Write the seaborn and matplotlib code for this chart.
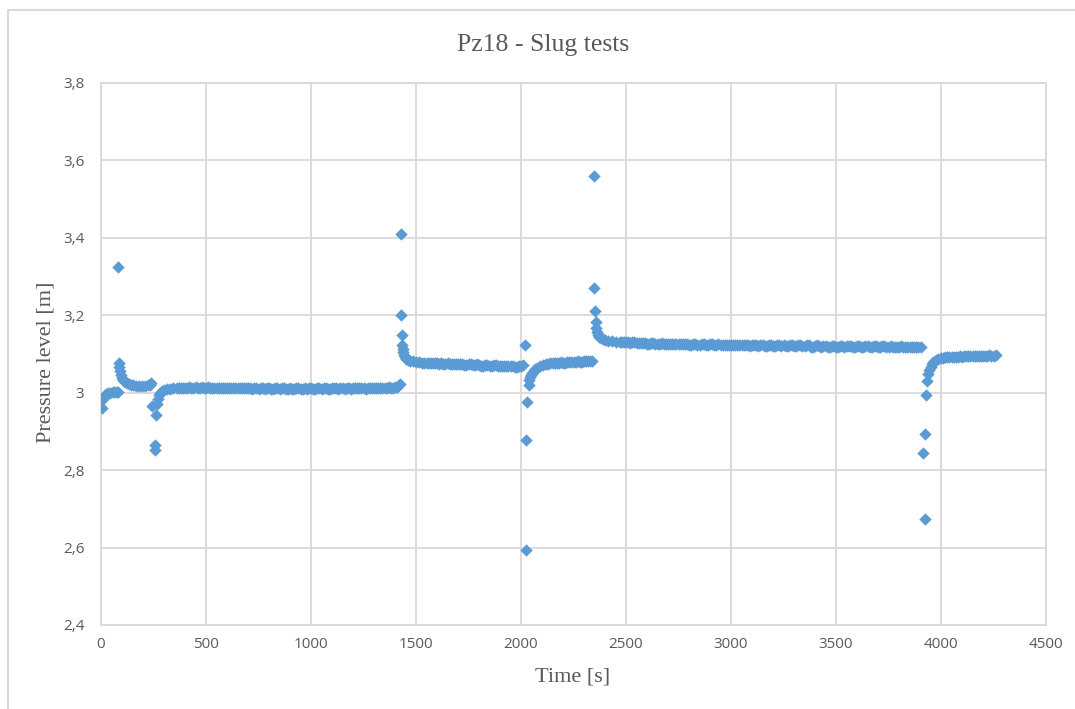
import matplotlib
matplotlib.use("Agg")
import matplotlib.pyplot as plt
import seaborn as sns
import pandas as pd
from matplotlib.patches import Rectangle

# ---------------- data ----------------
# Phase 1: start, first slug (spike + drop) and recovery
t_phase1 = [5, 8, 12, 18, 25, 35, 45, 55, 65, 75, 80,
            83, 84, 87, 90, 94, 98, 103, 108, 115, 123, 132, 142, 152, 165, 180, 195, 210, 222, 232, 240,
            245, 255, 258, 262, 266, 270, 275, 282, 290, 300, 315, 330, 345]
p_phase1 = [2.960, 2.984, 2.990, 2.994, 2.997, 2.999, 3.000, 3.001, 3.001, 3.002, 3.003,
            3.325, 3.078, 3.066, 3.056, 3.046, 3.039, 3.034, 3.030, 3.027, 3.024, 3.022, 3.020, 3.019,
            3.018, 3.017, 3.017, 3.018, 3.019, 3.021, 3.024,
            2.966, 2.852, 2.866, 2.943, 2.972, 2.985, 2.994, 3.000, 3.004, 3.007, 3.009, 3.010, 3.011]
# plateau 1: logged every 10 s from 360 s to 1400 s
t_plateau1 = list(range(360, 1401, 10))
p_plateau1 = [3.011, 3.012, 3.013, 3.011, 3.012, 3.013, 3.014, 3.012, 3.012, 3.014,
              3.013, 3.012, 3.014, 3.013, 3.012, 3.014, 3.013, 3.012, 3.011, 3.013,
              3.013, 3.011, 3.012, 3.013, 3.013, 3.011, 3.011, 3.013, 3.012, 3.011,
              3.013, 3.012, 3.011, 3.013, 3.012, 3.011, 3.010, 3.012, 3.012, 3.010,
              3.012, 3.011, 3.010, 3.012, 3.011, 3.010, 3.010, 3.012, 3.012, 3.010,
              3.011, 3.012, 3.009, 3.010, 3.011, 3.009, 3.010, 3.012, 3.012, 3.010,
              3.010, 3.011, 3.009, 3.011, 3.011, 3.009, 3.010, 3.012, 3.012, 3.010,
              3.011, 3.012, 3.009, 3.010, 3.011, 3.013, 3.012, 3.010, 3.012, 3.011,
              3.010, 3.012, 3.012, 3.010, 3.011, 3.013, 3.013, 3.011, 3.012, 3.011,
              3.010, 3.012, 3.012, 3.011, 3.013, 3.012, 3.011, 3.013, 3.012, 3.011,
              3.013, 3.014, 3.012, 3.013, 3.014]
t_pre2 = [1410, 1418, 1422]
p_pre2 = [3.016, 3.019, 3.023]

# Phase 2: second slug (spike) and slow decay
t_phase2 = [1427, 1429, 1431, 1433, 1436, 1439, 1443, 1448, 1454, 1462, 1472, 1485, 1500, 1515, 1530]
p_phase2 = [3.409, 3.200, 3.150, 3.122, 3.112, 3.104, 3.097, 3.092, 3.088, 3.085, 3.083, 3.081,
            3.080, 3.079, 3.078]
t_plateau2 = list(range(1540, 2001, 10))
p_plateau2 = [3.078, 3.077, 3.078, 3.076, 3.076, 3.077, 3.076,
              3.075, 3.076, 3.074, 3.075, 3.076, 3.074, 3.073, 3.075, 3.074, 3.073,
              3.074, 3.074, 3.072, 3.072, 3.074, 3.073, 3.071, 3.071, 3.073, 3.072,
              3.070, 3.070, 3.072, 3.072, 3.070, 3.070, 3.071, 3.071, 3.069, 3.068,
              3.070, 3.070, 3.068, 3.068, 3.070, 3.069, 3.067, 3.067, 3.069, 3.069]

# Phase 3: third slug (drop) and recovery
t_phase3 = [2010, 2018, 2022, 2026, 2030, 2036, 2040, 2044, 2048, 2053, 2060, 2068, 2078, 2090, 2105]
p_phase3 = [3.071, 3.122, 2.595, 2.878, 2.975, 3.020, 3.032, 3.040, 3.046, 3.051, 3.056, 3.061,
            3.065, 3.069, 3.072]
t_plateau3 = list(range(2120, 2341, 10))
p_plateau3 = [3.074, 3.075, 3.076, 3.077, 3.077, 3.077, 3.078, 3.079, 3.078, 3.078,
              3.079, 3.080, 3.079, 3.079, 3.080, 3.081, 3.080, 3.080, 3.081, 3.082,
              3.081, 3.081, 3.083]

# Phase 4: fourth slug (spike) and long plateau
t_phase4 = [2346, 2349, 2352, 2355, 2358, 2362, 2367, 2373, 2380, 2390, 2402, 2416, 2432, 2450]
p_phase4 = [3.560, 3.270, 3.212, 3.182, 3.167, 3.157, 3.150, 3.145, 3.141, 3.138, 3.136, 3.134,
            3.133, 3.132]
t_plateau4 = list(range(2470, 3891, 10))
p_plateau4 = [3.132, 3.131, 3.130, 3.131, 3.131, 3.129, 3.130, 3.130, 3.129, 3.128,
              3.128, 3.129, 3.129, 3.127, 3.127, 3.128, 3.129, 3.127, 3.126, 3.127,
              3.128, 3.126, 3.126, 3.127, 3.127, 3.125, 3.125, 3.126, 3.127, 3.125,
              3.125, 3.126, 3.126, 3.124, 3.124, 3.126, 3.125, 3.124, 3.124, 3.126,
              3.126, 3.123, 3.123, 3.125, 3.125, 3.123, 3.123, 3.125, 3.124, 3.123,
              3.122, 3.124, 3.124, 3.122, 3.122, 3.124, 3.124, 3.122, 3.122, 3.123,
              3.124, 3.122, 3.121, 3.123, 3.124, 3.122, 3.121, 3.123, 3.124, 3.121,
              3.121, 3.123, 3.123, 3.121, 3.121, 3.123, 3.122, 3.121, 3.122, 3.120,
              3.120, 3.122, 3.122, 3.120, 3.120, 3.122, 3.123, 3.121, 3.120, 3.122,
              3.122, 3.119, 3.119, 3.121, 3.122, 3.120, 3.119, 3.121, 3.121, 3.119,
              3.119, 3.121, 3.121, 3.119, 3.119, 3.121, 3.120, 3.119, 3.120, 3.121,
              3.121, 3.119, 3.118, 3.120, 3.120, 3.119, 3.118, 3.120, 3.120, 3.118,
              3.118, 3.120, 3.120, 3.118, 3.118, 3.120, 3.121, 3.119, 3.118, 3.120,
              3.119, 3.117, 3.118, 3.119, 3.120, 3.118, 3.117, 3.119, 3.119, 3.118,
              3.118, 3.119, 3.119]

# Phase 5: fifth slug (drop) and recovery
t_phase5 = [3905, 3915, 3922, 3926, 3930, 3934, 3940, 3945, 3950, 3956, 3964, 3974, 3986]
p_phase5 = [3.119, 2.845, 2.673, 2.893, 2.993, 3.030, 3.048, 3.058, 3.066, 3.073, 3.079, 3.084,
            3.087]
t_plateau5 = list(range(4000, 4261, 10))
p_plateau5 = [3.089, 3.090, 3.091, 3.091, 3.092, 3.092, 3.093, 3.092, 3.093, 3.094,
              3.093, 3.094, 3.095, 3.094, 3.094, 3.095, 3.096, 3.095, 3.095, 3.096,
              3.096, 3.095, 3.096, 3.097, 3.096, 3.096, 3.097]

x_ticks = [0, 500, 1000, 1500, 2000, 2500, 3000, 3500, 4000, 4500]
x_tick_labels = ["0", "500", "1000", "1500", "2000", "2500", "3000", "3500", "4000", "4500"]
y_ticks = [2.4, 2.6, 2.8, 3.0, 3.2, 3.4, 3.6, 3.8]
y_tick_labels = ["2,4", "2,6", "2,8", "3", "3,2", "3,4", "3,6", "3,8"]

title = "Pz18 - Slug tests"
x_label = "Time [s]"
y_label = "Pressure level [m]"

# ---------------- figure ----------------
sns.set_theme(style="white")
plt.rcParams['font.family'] = ['Open Sans', 'DejaVu Sans']

W, H = 1075, 709
fig = plt.figure(figsize=(W / 100, H / 100), dpi=100)
fig.patch.set_facecolor("white")

# light outer chart frame
fig.add_artist(Rectangle((8 / W, -0.1), 1.2, 1 - 10 / H + 0.1, transform=fig.transFigure,
                         fill=False, edgecolor="#d9d9d9", linewidth=1.5))

ax = fig.add_axes([101 / W, 1 - 625 / H, 945 / W, 542 / H])

times = (t_phase1 + t_plateau1 + t_pre2 + t_phase2 + t_plateau2 + t_phase3 + t_plateau3
         + t_phase4 + t_plateau4 + t_phase5 + t_plateau5)
levels = (p_phase1 + p_plateau1 + p_pre2 + p_phase2 + p_plateau2 + p_phase3 + p_plateau3
          + p_phase4 + p_plateau4 + p_phase5 + p_plateau5)
df = pd.DataFrame({"time": times, "pressure": levels})
sns.scatterplot(data=df, x="time", y="pressure", marker="D", s=40, color="#5B9BD5",
                linewidth=0, ax=ax, zorder=3, legend=False)

ax.set_xlim(0, 4500)
ax.set_ylim(2.4, 3.8)
ax.set_xticks(x_ticks)
ax.set_xticklabels(x_tick_labels)
ax.set_yticks(y_ticks)
ax.set_yticklabels(y_tick_labels)
ax.set_xlabel("")
ax.set_ylabel("")
ax.grid(True, color="#d9d9d9", linewidth=1.3, zorder=0)
ax.set_axisbelow(True)
for sp in ax.spines.values():
    sp.set_color("#d9d9d9")
    sp.set_linewidth(1.3)
ax.tick_params(axis="both", length=0, labelsize=11, labelcolor="#595959")
ax.tick_params(axis="x", pad=9)
ax.tick_params(axis="y", pad=12)

serif = ['Liberation Serif', 'DejaVu Serif']
fig.text(543 / W, 1 - 45 / H, title, family=serif, fontsize=18.5, color="#595959",
         ha="center", va="center")
fig.text(573 / W, 1 - 677 / H, x_label, family=serif, fontsize=16, color="#595959",
         ha="center", va="center")
fig.text(46 / W, 1 - 362 / H, y_label, family=serif, fontsize=16, color="#595959",
         ha="center", va="center", rotation=90)

fig.savefig("out.png", dpi=100)
